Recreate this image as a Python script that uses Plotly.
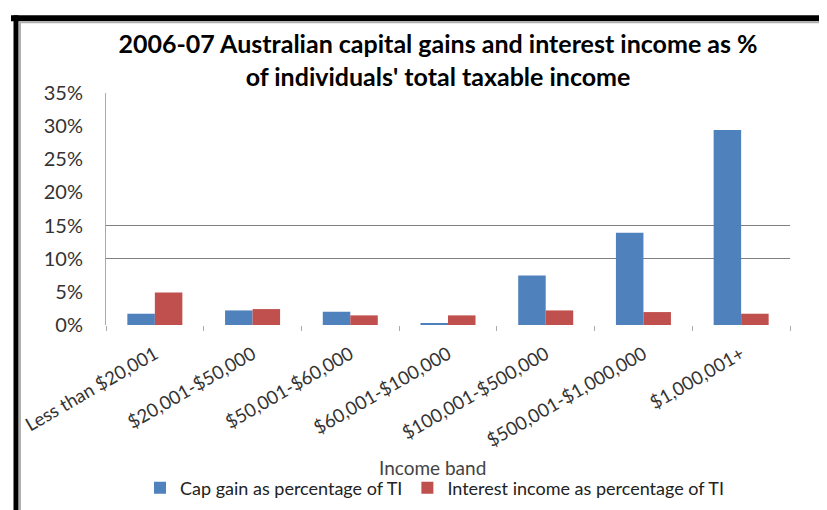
import plotly.graph_objects as go

categories = ["Less than $20,001", "$20,001-$50,000", "$50,001-$60,000",
              "$60,001-$100,000", "$100,001-$500,000", "$500,001-$1,000,000",
              "$1,000,001+"]
cap_gain = [1.7, 2.2, 2.0, 0.2, 7.45, 13.9, 29.4]
interest = [4.9, 2.4, 1.45, 1.45, 2.2, 1.95, 1.7]
y_ticks = [0, 5, 10, 15, 20, 25, 30, 35]
grid_levels = [10, 15, 35]

FONT = "Lato, Liberation Sans, sans-serif"
W, H = 827, 510
L, R, T, B = 98, 45, 85, 186
pw, ph = W - L - R, H - T - B

def px(x):
    return (x - L) / pw

def py(y):
    return (H - B - y) / ph

fig = go.Figure()
fig.add_trace(go.Bar(x=categories, y=cap_gain, name="Cap gain as percentage of TI",
                     marker=dict(color="#4F81BD", line=dict(width=0))))
fig.add_trace(go.Bar(x=categories, y=interest, name="Interest income as percentage of TI",
                     marker=dict(color="#C0504D", line=dict(width=0))))
# invisible trace on secondary axis to carry sparse gridlines
fig.add_trace(go.Scatter(x=categories, y=cap_gain, yaxis="y2", mode="markers",
                         marker=dict(opacity=0), showlegend=False, hoverinfo="skip"))

fig.update_layout(
    width=W, height=H,
    margin=dict(l=L, r=R, t=T, b=B),
    paper_bgcolor="white", plot_bgcolor="rgba(0,0,0,0)",
    barmode="group", bargap=0.437, bargroupgap=0,
    font=dict(family=FONT, color="#333333"),
    title=dict(text="<b>2006-07 Australian capital gains and interest income as %<br>of individuals' total taxable income</b>",
               x=0.52, xanchor="center", y=1 - 45 / H, yanchor="middle",
               font=dict(size=25, color="black", family=FONT)),
    xaxis=dict(tickangle=-30, tickfont=dict(size=18.5, color="#333333"),
               showline=False, ticks="outside", tickson="boundaries", ticklen=5,
               tickcolor="#aaaaaa", showgrid=False, ticklabelstandoff=14),
    yaxis=dict(range=[0, 35], tickvals=y_ticks, ticktext=[f"{v}%" for v in y_ticks],
               tickfont=dict(size=20, color="#333333"), showgrid=False, zeroline=False,
               showline=True, linecolor="#aaaaaa", linewidth=1, ticks="",
               ticklabelstandoff=18, layer="below traces"),
    yaxis2=dict(range=[0, 35], overlaying="y", tickvals=grid_levels, showticklabels=False,
                showgrid=True, gridcolor="#7f7f7f", gridwidth=1.2, zeroline=False, layer="below traces"),
    legend=dict(orientation="h", x=px(427), xanchor="center", y=py(492), yanchor="middle",
                font=dict(size=18, color="#222222"), itemwidth=30, traceorder="normal"),
    showlegend=True,
)

fig.add_annotation(text="Income band", xref="paper", yref="paper", x=px(424), y=py(471),
                   xanchor="center", yanchor="middle", showarrow=False,
                   font=dict(size=19, color="#444444", family=FONT))

# chart frame: black outer border at top and left, light gray inner border
fig.add_shape(type="line", xref="paper", yref="paper", x0=px(3), x1=px(830), y0=py(8), y1=py(8),
              line=dict(color="black", width=6))
fig.add_shape(type="line", xref="paper", yref="paper", x0=px(8), x1=px(8), y0=py(5), y1=py(515),
              line=dict(color="black", width=5))
fig.add_shape(type="line", xref="paper", yref="paper", x0=px(11), x1=px(830), y0=py(12), y1=py(12),
              line=dict(color="#b0b0b0", width=2))
fig.add_shape(type="line", xref="paper", yref="paper", x0=px(12), x1=px(12), y0=py(11), y1=py(515),
              line=dict(color="#b0b0b0", width=2))

fig.write_html("out.html")
